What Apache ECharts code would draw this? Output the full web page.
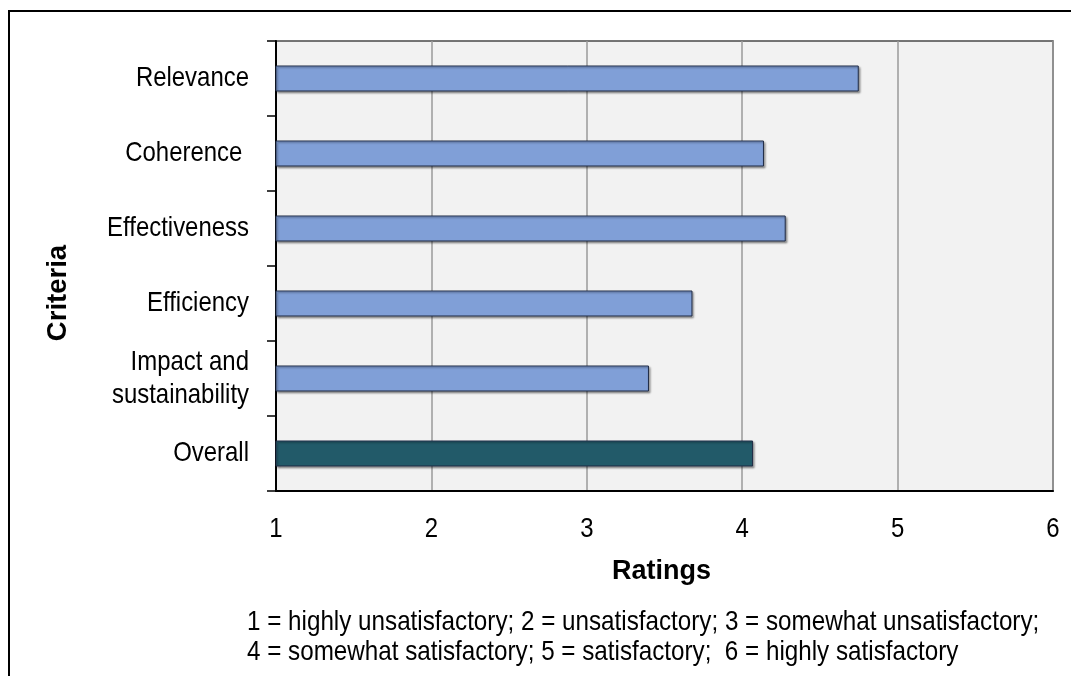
<!DOCTYPE html>
<html>
<head>
<meta charset="utf-8">
<script src="https://cdn.jsdelivr.net/npm/echarts@6/dist/echarts.min.js"></script>
<style>
  html, body { margin: 0; padding: 0; background: #ffffff; }
  #chart { width: 1071px; height: 676px; }
</style>
</head>
<body>
<div id="chart"></div>
<script>
// Evaluation criteria and their average ratings (scale 1–6)
const criteria = ['Relevance', 'Coherence ', 'Effectiveness', 'Efficiency', 'Impact and\nsustainability', 'Overall'];
const ratings = [4.75, 4.14, 4.28, 3.68, 3.40, 4.07];
const ratingTicks = [1, 2, 3, 4, 5, 6];
const scaleNote = [
  '1 = highly unsatisfactory; 2 = unsatisfactory; 3 = somewhat unsatisfactory;',
  '4 = somewhat satisfactory; 5 = satisfactory;  6 = highly satisfactory'
];

const FONT = "'Liberation Sans', Arial, sans-serif";
const NARROW = 0.855;          // horizontal squeeze for a narrow-sans look
const criterionColor = '#809fd7';
const overallColor = '#225a69';

const chart = echarts.init(document.getElementById('chart'), null, { renderer: 'canvas' });

const barData = ratings.map((v, i) => ({
  value: v,
  itemStyle: { color: criteria[i] === 'Overall' ? overallColor : criterionColor }
}));

chart.setOption({
  animation: false,
  backgroundColor: '#ffffff',
  grid: {
    left: 276, top: 41, right: 18, bottom: 185,
    show: true,
    backgroundColor: '#f2f2f2',
    borderColor: '#4a4a4a',
    borderWidth: 1.5
  },
  xAxis: {
    type: 'value',
    min: ratingTicks[0],
    max: ratingTicks[ratingTicks.length - 1],
    interval: 1,
    axisLine: { show: true, lineStyle: { color: '#000', width: 2 } },
    axisTick: { show: false },
    axisLabel: { show: false },
    splitLine: { show: true, lineStyle: { color: '#9a9a9a', width: 1.5 } }
  },
  yAxis: {
    type: 'category',
    data: criteria,
    inverse: true,
    boundaryGap: true,
    axisLine: { show: true, lineStyle: { color: '#000', width: 2 } },
    axisTick: { show: true, inside: false, length: 9, lineStyle: { color: '#000', width: 1.5 } },
    axisLabel: { show: false },
    splitLine: { show: false }
  },
  series: [{
    type: 'bar',
    data: barData,
    barWidth: 26,
    itemStyle: {
      borderColor: '#1f2a44',
      borderWidth: 1,
      shadowColor: 'rgba(0,0,0,0.35)',
      shadowBlur: 2,
      shadowOffsetX: 1.5,
      shadowOffsetY: 1.5
    }
  }]
});

// Labels are placed from the axes' own pixel mapping, drawn with a narrow squeeze
const axisX0 = chart.convertToPixel({ xAxisIndex: 0 }, ratingTicks[0]);
const axisYBottom = chart.convertToPixel({ yAxisIndex: 0 }, criteria[criteria.length - 1]) + 37.5;

const labels = [];

criteria.forEach((name) => {
  labels.push({
    type: 'text',
    x: axisX0 - 27,
    y: chart.convertToPixel({ yAxisIndex: 0 }, name),
    scaleX: NARROW,
    silent: true,
    style: {
      text: name,
      fontFamily: FONT, fontSize: 28, lineHeight: 33,
      align: 'right', verticalAlign: 'middle', fill: '#000'
    }
  });
});

ratingTicks.forEach((t) => {
  labels.push({
    type: 'text',
    x: chart.convertToPixel({ xAxisIndex: 0 }, t),
    y: axisYBottom + 38,
    scaleX: NARROW,
    silent: true,
    style: {
      text: String(t),
      fontFamily: FONT, fontSize: 28,
      align: 'center', verticalAlign: 'middle', fill: '#000'
    }
  });
});

const plotMidX = (chart.convertToPixel({ xAxisIndex: 0 }, ratingTicks[0]) +
                  chart.convertToPixel({ xAxisIndex: 0 }, ratingTicks[ratingTicks.length - 1])) / 2;

labels.push(
  {
    type: 'text', x: plotMidX - 3, y: 572, silent: true,
    style: {
      text: 'Ratings', fontFamily: FONT, fontSize: 27, fontWeight: 'bold',
      align: 'center', verticalAlign: 'middle', fill: '#000'
    }
  },
  {
    type: 'text', x: 58, y: 293, rotation: Math.PI / 2, silent: true,
    style: {
      text: 'Criteria', fontFamily: FONT, fontSize: 27.5, fontWeight: 'bold',
      align: 'center', verticalAlign: 'middle', fill: '#000'
    }
  },
  {
    type: 'text', x: 247, y: 637, scaleX: 0.865, silent: true,
    style: {
      text: scaleNote.join('\n'), fontFamily: FONT, fontSize: 28, lineHeight: 30,
      align: 'left', verticalAlign: 'middle', fill: '#000'
    }
  },
  {
    type: 'rect', silent: true,
    shape: { x: 9, y: 11, width: 1200, height: 800 },
    style: { fill: 'none', stroke: '#000', lineWidth: 2 }
  }
);

chart.setOption({ graphic: labels });
</script>
</body>
</html>
